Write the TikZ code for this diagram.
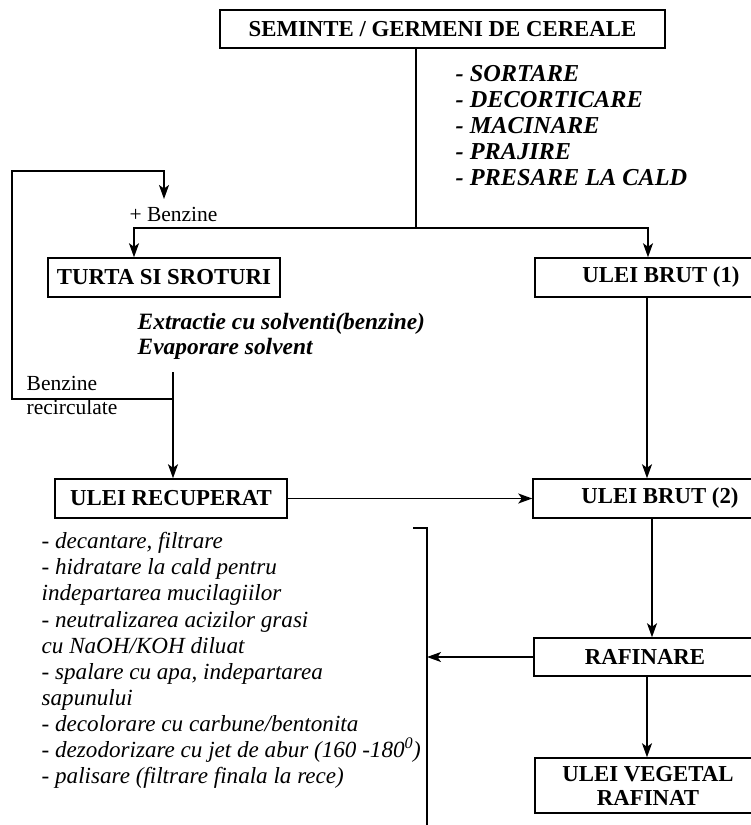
\documentclass[tikz,border=0pt]{standalone}
\usepackage{fontspec}
\setmainfont{Liberation Serif}
\usetikzlibrary{arrows.meta}
\begin{document}
\begin{tikzpicture}[x=1pt,y=-1pt,
  line width=1.4pt,
  arr/.style={-{Stealth[length=14pt,width=10pt,inset=3.5pt]}},
  box/.style={draw,line width=1.5pt,inner sep=0pt,font=\fontsize{22.8}{26}\selectfont\bfseries,align=center},
  lbl/.style={inner sep=0pt,font=\fontsize{22.8}{26}\selectfont,align=left}]
\useasboundingbox (0,0) rectangle (751,825);
\clip (0,0) rectangle (751,825);
% boxes
\node[box,minimum width=445,minimum height=38] (seed) at (442.5,29) {SEMINTE / GERMENI DE CEREALE};
\node[box,minimum width=232,minimum height=39] (turta) at (164,277.5) {TURTA SI SROTURI};
\node[box,minimum width=252,minimum height=39] (brut1) at (661,277.5) {ULEI BRUT (1)};
\node[box,minimum width=232,minimum height=39] (recup) at (171,498.5) {ULEI RECUPERAT};
\node[box,minimum width=254,minimum height=39] (brut2) at (660,498.5) {ULEI BRUT (2)};
\node[box,minimum width=222,minimum height=38] (raf) at (645,657) {RAFINARE};
\node[box,minimum width=226,minimum height=55,font=\fontsize{22.8}{24}\selectfont\bfseries] (veg) at (648,785.5) {ULEI VEGETAL\\RAFINAT};
% labels
\node[lbl,anchor=west,font=\fontsize{24.3}{26}\selectfont\bfseries\itshape] (steps) at (455,126)
 {- SORTARE\\- DECORTICARE\\- MACINARE\\- PRAJIRE\\- PRESARE LA CALD};
\node[lbl,anchor=west,font=\fontsize{23.4}{25}\selectfont\bfseries\itshape] (extr) at (137,336)
 {Extractie cu solventi(benzine)\\Evaporare solvent};
\node[lbl,anchor=west,font=\fontsize{21.5}{24}\selectfont] (recirc) at (26,395) {Benzine\\recirculate};
\node[lbl,font=\fontsize{21.5}{24}\selectfont] (plusb) at (173.5,214) {+ Benzine};
\node[lbl,anchor=west,font=\fontsize{23.1}{26.1}\selectfont\itshape] (ops) at (41,660.5)
 {- decantare, filtrare\\- hidratare la cald pentru\\indepartarea mucilagiilor\\- neutralizarea acizilor grasi\\cu NaOH/KOH diluat\\- spalare cu apa, indepartarea\\sapunului\\- decolorare cu carbune/bentonita\\- dezodorizare cu jet de abur (160 -180\textsuperscript{0})\\- palisare (filtrare finala la rece)};
% coordinates
\coordinate (split) at (416,228);
\coordinate (rstart) at (173,372);
\coordinate (rj) at (173,399);
\coordinate (lpl) at (12,171);
\coordinate (lpend) at (164,199);
\coordinate (btick) at (413,528);
\coordinate (btop) at (427,528);
\coordinate (bbot) at (427,830);
% connectors
\draw (seed.south -| split) -- (split);
\draw[arr] (split) -| ([xshift=-30pt]turta.north);
\draw[arr] (split) -| ([xshift=-13pt]brut1.north);
\draw[arr] ([xshift=-14pt]brut1.south) -- ([xshift=-14pt]brut1.south |- brut2.north);
\draw[arr] (rstart) -- (rstart |- recup.north);
\draw[arr] (rj) -| (lpl) -| (lpend);
\draw[arr] (recup.east) -- (brut2.west);
\draw[arr] ([xshift=-8pt]brut2.south) -- ([xshift=-8pt]brut2.south |- raf.north);
\draw[arr] ([xshift=2pt]raf.south) -- ([xshift=2pt]raf.south |- veg.north);
\draw (btick) -- (btop) -- (bbot);
\draw[arr] (raf.west) -- (raf.west -| btop);
\end{tikzpicture}
\end{document}
